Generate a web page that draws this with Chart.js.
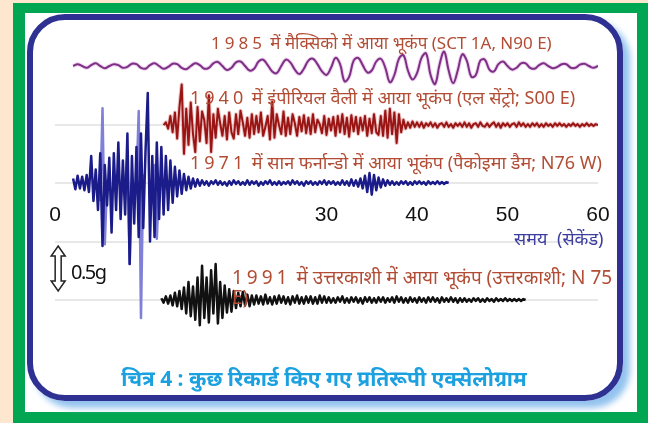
<!DOCTYPE html>
<html lang="hi">
<head>
<meta charset="UTF-8">
<title>प्रतिरूपी एक्सेलोग्राम</title>
<script src="https://cdn.jsdelivr.net/npm/chart.js"></script>
<style>
  body {
    margin: 0;
    width: 648px;
    height: 423px;
    overflow: hidden;
    background: #fde8cf;
    position: relative;
    font-family: "Noto Sans", sans-serif;
  }
  #green { position: absolute; left: 13px; top: 3px; width: 635px; height: 420px; background: #00a651; }
  #white { position: absolute; left: 25px; top: 13px; width: 612px; height: 399px; background: #fff; }
  #panel {
    position: absolute; left: 27px; top: 14px; width: 596px; height: 387px;
    box-sizing: border-box;
    border: 6px solid #2e3192;
    border-radius: 38px;
    box-shadow: 7px 7px 6px #93c3ef;
  }
  #wrap { position: absolute; left: 0; top: 0; width: 648px; height: 423px; }
  .lbl {
    position: absolute;
    white-space: nowrap;
    transform: translateY(-50%);
    color: #b24c34;
    font-size: 18px;
  }
  .yr { letter-spacing: 4px; }
</style>
</head>
<body>
<div id="green"></div>
<div id="white"></div>
<div id="panel"></div>
<div id="wrap"><canvas id="chart"></canvas></div>

<div class="lbl" style="left:211px; top:42px; font-size:17px;"><span class="yr">1985</span> में मैक्सिको में आया भूकंप (SCT 1A, N90 E)</div>
<div class="lbl" style="left:190px; top:97px;"><span class="yr">1940</span> में इंपीरियल वैली में आया भूकंप (एल सेंट्रो; S00 E)</div>
<div class="lbl" style="left:190px; top:162px;"><span class="yr">1971</span> में सान फर्नान्डो में आया भूकंप (पैकोइमा डैम; N76 W)</div>
<div class="lbl" style="left:232px; top:277px; font-size:19px;"><span class="yr">1991</span> में उत्तरकाशी में आया भूकंप (उत्तरकाशी; N 75</div>
<div class="lbl" style="left:232px; top:297px; font-size:19px;">E)</div>
<div class="lbl" style="left:514px; top:238px; color:#3d3d9f; font-size:18px; word-spacing:5px;">समय (सेकेंड)</div>
<div class="lbl" style="left:71px; top:271px; color:#111; font-size:20px; letter-spacing:-1.5px;">0.5g</div>
<div class="lbl" style="left:0; width:648px; text-align:center; top:378px; color:#1ba0e0; font-size:21px; font-weight:bold;">चित्र 4 : कुछ रिकार्ड किए गए प्रतिरूपी एक्सेलोग्राम</div>

<script>
// x tick labels shown (seconds)
const xTicks = [0, 30, 40, 50, 60];

// baselines of the four records (g units on the shared y scale)
const offsets = { mexico: 2.6, imperial: 1.944, sanFernando: 1.3, uttarkashi: 0 };
const baselines = [0, 0.65, 1.3, 1.944];

// 1985 Mexico (SCT 1A, N90E) - start 2 s, every 0.5 s
const mexT0 = 2, mexDt = 0.5;
const mexico = [
  0, 0.02, 0, -0.02, 0.01, 0.03, 0, -0.025, 0, 0.02,
  0.01, -0.02, -0.01, 0.025, 0.02, -0.02, -0.03, 0.01, 0.03, 0,
  -0.03, -0.01, 0.025, 0.02, -0.02, -0.035, 0, 0.03, 0.01, -0.03,
  -0.02, 0.03, 0.045, 0, -0.045, -0.02, 0.04, 0.05, 0, -0.05,
  -0.03, 0.05, 0.07, 0.01, -0.06, -0.08, 0, 0.07, 0.04, -0.04,
  -0.09, -0.03, 0.06, 0.08, 0.02, -0.06, -0.1, -0.02, 0.09, 0.02,
  -0.17, -0.12, 0.06, 0.09, 0.01, -0.07, -0.05, 0.05, 0.08, -0.02,
  -0.18, -0.1, 0.08, 0.12, -0.05, -0.15, -0.08, 0.09, 0.14, -0.1,
  -0.2, 0.02, 0.16, -0.05, -0.19, -0.05, 0.13, 0.06, -0.12, -0.1,
  0.06, 0.07, -0.04, -0.06, 0.02, 0.05, 0, -0.04, -0.02, 0.03,
  0.03, -0.02, -0.03, 0.01, 0.03, 0, -0.025, -0.01, 0.02, 0.02,
  -0.02, -0.02, 0.015, 0.025, 0, -0.02, 0
];

// 1940 Imperial Valley (El Centro, S00E) - start 12 s, every 0.25 s
const impT0 = 12, impDt = 0.25;
const imperial = [
  0, 0.03, -0.04, 0.1, -0.08, 0.14, -0.15, 0.2, 0.45, -0.32,
  0.18, -0.22, 0.25, -0.1, -0.3, 0.2, -0.18, 0.15, 0.05, -0.2,
  0.33, -0.3, 0.12, -0.14,
  0.18, 0.02, -0.12, 0.1, -0.16, 0.14, -0.08, -0.15,
  0.12, -0.1, 0.16, 0.03, -0.12, 0.08, -0.14, 0.12,
  -0.1, 0.1, -0.08, 0.14, -0.12, -0.02, 0.1, -0.16,
  0.26, -0.14, 0.12, 0, -0.1, 0.15, -0.12, 0.08,
  -0.1, 0.12, 0.02, -0.12, 0.09, -0.07, 0.11, -0.09,
  0.08, -0.1, 0.12, -0.08, 0.06, 0.01, -0.09, 0.1,
  -0.11, 0.07, -0.06, 0.09, -0.12, 0.1, -0.08, 0.12,
  -0.1, 0.08, -0.13, 0.11, -0.07, 0.09, -0.1, 0.08,
  -0.06, 0.1, -0.12, 0.07, -0.09, 0.12, -0.08, -0.11,
  0.1, -0.12, 0.16, -0.14, 0.18, -0.1, 0.14, -0.2, 0.12, -0.08,
  0.06, -0.04, 0.03, -0.03, 0.04, -0.02, 0.03,
  -0.02, 0.03, -0.03, 0.02, -0.01, 0.03, -0.02, 0.02, -0.03, 0.01,
  0.02, -0.02, 0.03, -0.02, 0.01, -0.03, 0.02, -0.01, 0.02, -0.02,
  0.03, -0.02, 0.02, -0.03, 0.01, 0.02, -0.02, 0.03, -0.01, -0.02,
  0.02, -0.02, 0.01, 0.03, -0.02, 0.02, -0.03, 0.02, -0.01, 0.02,
  -0.02, 0.01, 0.02, -0.02, 0.03, -0.01, 0.02, -0.02, 0.01, -0.02,
  0.02, -0.01, 0.02, -0.02, 0.01, -0.02, 0.02, -0.01, 0.01, -0.02,
  0.02, -0.01, 0.02, -0.01, 0.01, -0.02, 0.01, -0.01, 0.02, -0.01,
  0.01, -0.02, 0.01, -0.01, 0.02, -0.01, 0.01, -0.01, 0.01, 0
];

// 1971 San Fernando (Pacoima Dam, N76W) - start 2 s, every 0.25 s
const sfT0 = 2, sfDt = 0.25;
const sanFernando = [
  0.05, -0.07, 0.08, -0.06, 0.07, -0.08, 0.09, -0.1,
  0.3, -0.2, 0.15, -0.3, 0.33, -0.7, 0.2, -0.25,
  0.28, -0.55, 0.33, -0.3, 0.45, -0.4, 0.25, -0.35,
  0.55, -0.9, 0.3, -0.45, 0.4, -0.6, 0.55, -0.5,
  0.35, 1.0, -0.65, 0.3, -0.6, 0.45, -0.4, 0.4,
  -0.35, 0.3, -0.3, 0.25, -0.22, 0.18, -0.15, 0.14,
  -0.12, 0.1, -0.08, 0.07, -0.06, 0.05, -0.04, 0.04,
  -0.03,
  0.03, -0.02, 0.02, -0.03, 0.02, -0.01, 0.03, -0.02, 0.02, -0.02,
  0.01, -0.03, 0.02, -0.02, 0.03, -0.01, 0.02, -0.02, 0.01, -0.02,
  0.03, -0.02, 0.02, -0.01, 0.02, -0.03, 0.01, -0.02, 0.02, -0.01,
  0.03, -0.02, 0.01, -0.02, 0.02, -0.02, 0.01, -0.01, 0.02, -0.02,
  0.03, -0.01, 0.02, -0.02, 0.01, -0.03, 0.02, -0.01, 0.02, -0.02,
  0.01, -0.02, 0.02, -0.01, 0.03, -0.02, 0.02, -0.01, 0.02, -0.02,
  0.01, -0.02, 0.03, -0.02, 0.02, -0.03, 0.04, -0.03, 0.03, -0.04,
  0.05, -0.06, 0.08, -0.1, 0.11, -0.13, 0.09, -0.08, 0.06, -0.05, 0.04, -0.03,
  0.03, -0.02, 0.02, -0.02, 0.01, -0.02, 0.02, -0.01, 0.02, -0.02,
  0.01, -0.02, 0.02, -0.01, 0.02, -0.01, 0.01, -0.02, 0.02, -0.01,
  0.01, -0.01, 0.02, -0.01, 0.01, -0.01, 0.01, 0
];
// lighter component of the same record (tall thin spikes) - start 4.5 s
const sfLightT0 = 4.5;
const sanFernandoLight = [
  null, null, -0.2, 0.83, -0.68, 0, null, null, null, null,
  null, null, null, 0, 0.3, -0.9, 0, null, 0, 0.8,
  -1.5, 0.1, null, null, null, 0, 0.2, -0.62, 0, null, null
];

// 1991 Uttarkashi (N75E) - start 11.75 s, every 0.25 s
const utT0 = 11.75, utDt = 0.25;
const uttarkashi = [
  0.02, -0.03, 0.04, -0.04, 0.05, -0.06, 0.08, -0.07, 0.1, -0.1,
  0.14, -0.15, 0.2, -0.18, 0.15, -0.22, 0.25, -0.28, 0.38, -0.2,
  0.25, -0.25, 0.33, -0.15, 0.4, -0.26, 0.2, -0.2, 0.16, -0.14,
  0.12, -0.13, 0.1, -0.09, 0.08, -0.07, 0.09, -0.06, 0.06, -0.07,
  0.05, -0.05,
  0.05, -0.04, 0.04, -0.05, 0.06, -0.04, 0.03, -0.05, 0.04, -0.04,
  0.05, -0.03, 0.04, -0.04, 0.03, -0.05, 0.04, -0.03, 0.05, -0.04,
  0.03, -0.04, 0.04, -0.03, 0.04, -0.04, 0.03, -0.04, 0.05, -0.03,
  0.04, -0.03,
  0.03, -0.03, 0.02, -0.03, 0.03, -0.02, 0.04, -0.03, 0.02, -0.03,
  0.03, -0.02, 0.03, -0.03, 0.02, -0.04, 0.03, -0.02, 0.03, -0.03,
  0.02, -0.03, 0.03, -0.02, 0.03, -0.03, 0.02, -0.02, 0.03, -0.03,
  0.04, -0.02, 0.03, -0.03, 0.02, -0.03, 0.03, -0.02, 0.02, -0.03,
  0.03, -0.02, 0.02, -0.03, 0.03, -0.02, 0.03, -0.02, 0.02, -0.03,
  0.03, -0.02, 0.02, -0.02, 0.03, -0.02, 0.02, -0.03, 0.02, -0.02,
  0.02, -0.02, 0.01, -0.02, 0.02, -0.01, 0.02, -0.02, 0.01, -0.02,
  0.02, -0.01, 0.01, -0.02, 0.02, -0.01, 0.01, -0.01, 0.02, -0.01,
  0.01, -0.01, 0.01, -0.01, 0.01, -0.01, 0.01, 0
];

function trace(vals, t0, dt, offset) {
  return vals.map((v, i) => ({ x: t0 + i * dt, y: v === null ? null : v + offset }));
}

function line(data, color, width, order, tension) {
  return {
    data: data,
    borderColor: color,
    borderWidth: width,
    pointRadius: 0,
    tension: tension || 0,
    borderJoinStyle: 'round',
    spanGaps: false,
    order: order
  };
}

// hollow double arrow showing 0.5 g
const scaleArrow = {
  id: 'scaleArrow',
  afterDatasetsDraw(chart) {
    const xs = chart.scales.x, ys = chart.scales.y;
    const cx = xs.getPixelForValue(0.35);
    const y1 = ys.getPixelForValue(0.6), y2 = ys.getPixelForValue(0.1);
    const sw = 3, hw = 7, hh = 10;
    const c = chart.ctx;
    c.save();
    c.beginPath();
    c.moveTo(cx, y1);
    c.lineTo(cx + hw, y1 + hh);
    c.lineTo(cx + sw, y1 + hh);
    c.lineTo(cx + sw, y2 - hh);
    c.lineTo(cx + hw, y2 - hh);
    c.lineTo(cx, y2);
    c.lineTo(cx - hw, y2 - hh);
    c.lineTo(cx - sw, y2 - hh);
    c.lineTo(cx - sw, y1 + hh);
    c.lineTo(cx - hw, y1 + hh);
    c.closePath();
    c.fillStyle = '#fff';
    c.fill();
    c.lineWidth = 1.5;
    c.strokeStyle = '#222';
    c.stroke();
    c.restore();
  }
};

const mexData = trace(mexico, mexT0, mexDt, offsets.mexico);
const impData = trace(imperial, impT0, impDt, offsets.imperial);

new Chart(document.getElementById('chart'), {
  type: 'line',
  data: {
    datasets: [
      line(trace(uttarkashi, utT0, utDt, offsets.uttarkashi), '#111111', 2.5, 1),
      line(trace(sanFernando, sfT0, sfDt, offsets.sanFernando), '#1b1b8a', 2.5, 2),
      line(trace(sanFernandoLight, sfLightT0, sfDt, offsets.sanFernando), '#8080d8', 2.5, 3),
      line(impData, '#9a1414', 2, 4),
      line(impData, 'rgba(205,110,110,0.4)', 4, 5),
      line(mexData, '#7e2f86', 2, 6, 0.4),
      line(mexData, 'rgba(220,170,220,0.5)', 4, 7, 0.4)
    ]
  },
  options: {
    responsive: true,
    maintainAspectRatio: false,
    animation: false,
    layout: { padding: { left: 55, right: 50, top: 21, bottom: 24 } },
    plugins: { legend: { display: false }, tooltip: { enabled: false } },
    scales: {
      x: {
        type: 'linear',
        min: 0,
        max: 60,
        position: { y: 1.19 },
        afterFit: (s) => { s.height = 0; },
        grid: { display: false },
        border: { display: false },
        ticks: {
          stepSize: 10,
          padding: 2,
          color: '#111',
          font: { family: 'Liberation Sans', size: 21 },
          callback: (v) => xTicks.includes(v) ? String(v) : ''
        }
      },
      y: {
        type: 'linear',
        min: -1.1,
        max: 3.1,
        afterFit: (s) => { s.width = 0; },
        afterBuildTicks: (s) => { s.ticks = baselines.map(v => ({ value: v })); },
        grid: { color: '#e8e8e8', lineWidth: 2, drawTicks: false },
        border: { display: false },
        ticks: { display: false }
      }
    }
  },
  plugins: [scaleArrow]
});
</script>
</body>
</html>
